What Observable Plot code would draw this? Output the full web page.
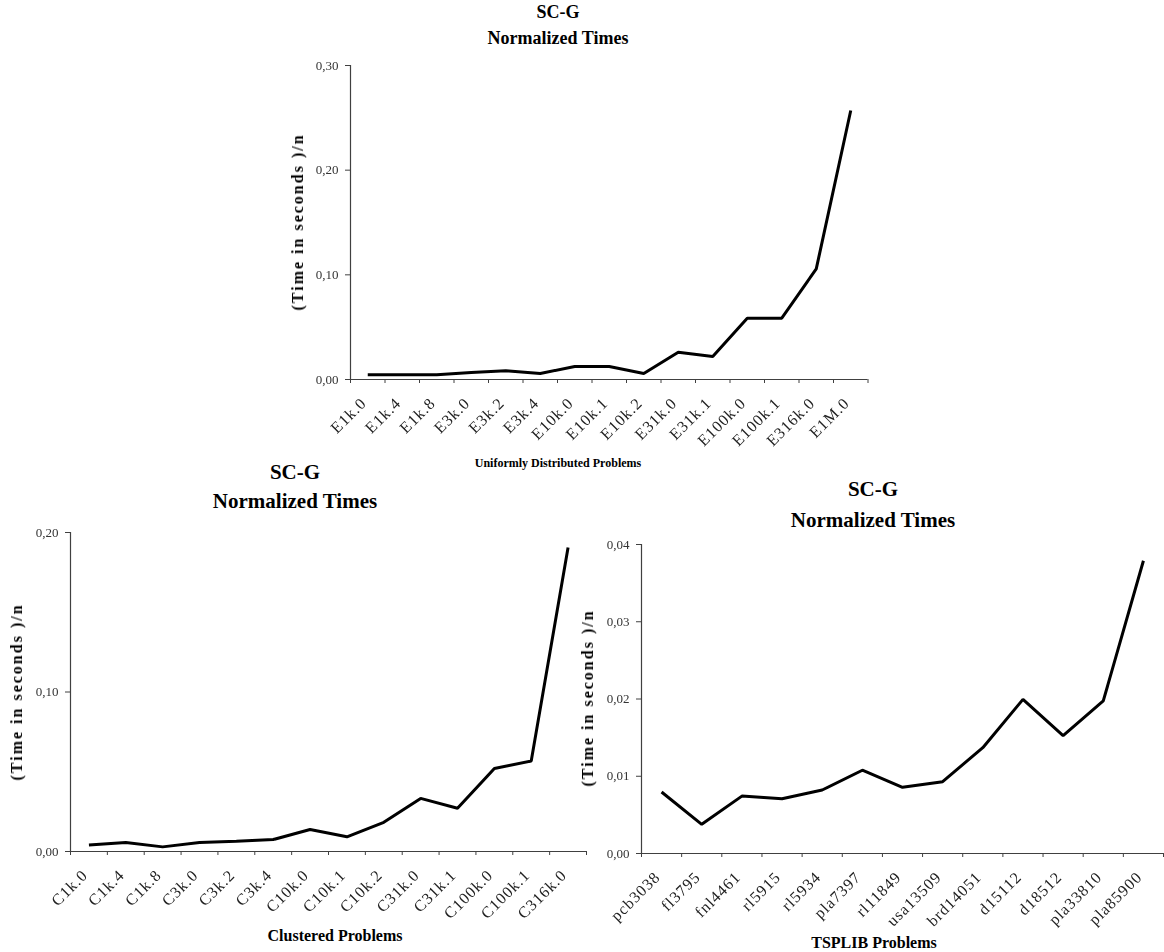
<!DOCTYPE html>
<html>
<head>
<meta charset="utf-8">
<script src="https://cdn.jsdelivr.net/npm/d3@7"></script>
<script src="https://cdn.jsdelivr.net/npm/@observablehq/plot@0.6"></script>
<style>
  html, body { margin: 0; padding: 0; background: white; }
  #wrap { position: relative; width: 1164px; height: 952px; font-family: 'Liberation Serif', 'Times New Roman', serif; overflow: hidden; }
  .t { position: absolute; white-space: nowrap; font-weight: bold; color: #000; transform: translateX(-50%); line-height: 1; }
  .ylab { position: absolute; white-space: nowrap; font-weight: bold; color: #000; font-size: 16px; letter-spacing: 2px; line-height: 1; transform: translate(-50%, -50%) rotate(-90deg); }
  .panel { position: absolute; will-change: transform; }
</style>
</head>
<body>
<div id="wrap"></div>
<script>
// ---- data ----
const chartTitle = "SC-G";
const chartSubtitle = "Normalized Times";
const yAxisTitle = "(Time in seconds )/n";

const uniformTitle = "Uniformly Distributed Problems";
const uniformCategories = ["E1k.0","E1k.4","E1k.8","E3k.0","E3k.2","E3k.4","E10k.0","E10k.1","E10k.2","E31k.0","E31k.1","E100k.0","E100k.1","E316k.0","E1M.0"];
const uniformValues = [0.0045,0.0045,0.0045,0.0067,0.0083,0.0057,0.0124,0.0124,0.0057,0.0260,0.0220,0.0586,0.0586,0.1057,0.2570];
const uniformYTicks = [0, 0.10, 0.20, 0.30];

const clusteredTitle = "Clustered Problems";
const clusteredCategories = ["C1k.0","C1k.4","C1k.8","C3k.0","C3k.2","C3k.4","C10k.0","C10k.1","C10k.2","C31k.0","C31k.1","C100k.0","C100k.1","C316k.0"];
const clusteredValues = [0.0040,0.0056,0.0029,0.0056,0.0065,0.0075,0.0138,0.0092,0.0183,0.0333,0.0271,0.0520,0.0567,0.1906];
const clusteredYTicks = [0, 0.10, 0.20];

const tsplibTitle = "TSPLIB Problems";
const tsplibCategories = ["pcb3038","fl3795","fnl4461","rl5915","rl5934","pla7397","rl11849","usa13509","brd14051","d15112","d18512","pla33810","pla85900"];
const tsplibValues = [0.00796,0.00378,0.00743,0.00709,0.00822,0.01078,0.00857,0.00930,0.01370,0.01995,0.01526,0.01975,0.03790];
const tsplibYTicks = [0, 0.01, 0.02, 0.03, 0.04];

// ---- layout ----
const wrap = document.getElementById("wrap");
const fmt = d => d3.format(".2f")(d).replace(".", ",");

function addText(txt, x, baseline, size) {
  const d = document.createElement("div");
  d.className = "t";
  d.textContent = txt;
  d.style.left = x + "px";
  d.style.top = (baseline - 0.838 * size) + "px";
  d.style.fontSize = size + "px";
  wrap.appendChild(d);
}
function addYLabel(txt, cx, cy) {
  const d = document.createElement("div");
  d.className = "ylab";
  d.textContent = txt;
  d.style.left = cx + "px";
  d.style.top = cy + "px";
  wrap.appendChild(d);
}

function drawPanel(cats, vals, yTicks, L) {
  const n = cats.length;
  const data = cats.map((c, i) => ({c, i, v: vals[i]}));
  const svg = Plot.plot({
    width: L.w, height: L.h,
    marginLeft: L.pl - L.x, marginRight: L.x + L.w - L.pr,
    marginTop: L.pt - L.y, marginBottom: L.y + L.h - L.pb,
    style: {background: "transparent", overflow: "visible", fontFamily: "'Liberation Serif', 'Times New Roman', serif"},
    x: {type: "linear", domain: [0, n]},
    y: {type: "linear", domain: [0, yTicks[yTicks.length - 1]]},
    marks: [
      Plot.axisY(yTicks, {tickSize: 5, tickPadding: 7, tickFormat: fmt, fontSize: 13, stroke: "#404040", fill: "#333", label: null}),
      Plot.axisX(d3.range(n + 1), {tickSize: 4, tickFormat: () => "", stroke: "#404040", label: null}),
      Plot.axisX(d3.range(n).map(i => i + 0.5), {tickSize: 0, tickPadding: 21, dx: -4, tickRotate: -45, tickFormat: t => cats[Math.floor(t)], fontSize: 16, fill: "#222", label: null}),
      Plot.ruleX([0], {stroke: "#404040", strokeWidth: 1.2}),
      Plot.ruleY([0], {stroke: "#404040", strokeWidth: 1.2}),
      Plot.line(data, {x: d => d.i + 0.5, y: "v", stroke: "black", strokeWidth: 3, strokeLinejoin: "miter", strokeLinecap: "butt"})
    ]
  });
  d3.select(svg).selectAll("g[aria-label='x-axis tick label'] text").style("letter-spacing", "1px");
  const holder = document.createElement("div");
  holder.className = "panel";
  holder.style.left = L.x + "px";
  holder.style.top = L.y + "px";
  holder.appendChild(svg);
  wrap.appendChild(holder);
}

// Top: uniform
addText(chartTitle, 558, 18, 18);
addText(chartSubtitle, 558, 44, 18);
drawPanel(uniformCategories, uniformValues, uniformYTicks, {x: 300, y: 55, w: 580, h: 384, pl: 350, pr: 867.5, pt: 65, pb: 379});
addYLabel(yAxisTitle, 298, 222);
addText(uniformTitle, 558, 467, 12);

// Bottom-left: clustered
addText(chartTitle, 295, 480, 21);
addText(chartSubtitle, 295, 509, 21);
drawPanel(clusteredCategories, clusteredValues, clusteredYTicks, {x: 20, y: 522, w: 580, h: 390, pl: 70, pr: 586, pt: 532, pb: 851});
addYLabel(yAxisTitle, 17, 692);
addText(clusteredTitle, 335, 941, 16);

// Bottom-right: TSPLIB
addText(chartTitle, 873, 497, 21);
addText(chartSubtitle, 873, 528, 21);
drawPanel(tsplibCategories, tsplibValues, tsplibYTicks, {x: 600, y: 534, w: 564, h: 390, pl: 641, pr: 1163, pt: 544, pb: 853});
addYLabel(yAxisTitle, 588, 698);
addText(tsplibTitle, 874, 948, 16);
</script>
</body>
</html>
